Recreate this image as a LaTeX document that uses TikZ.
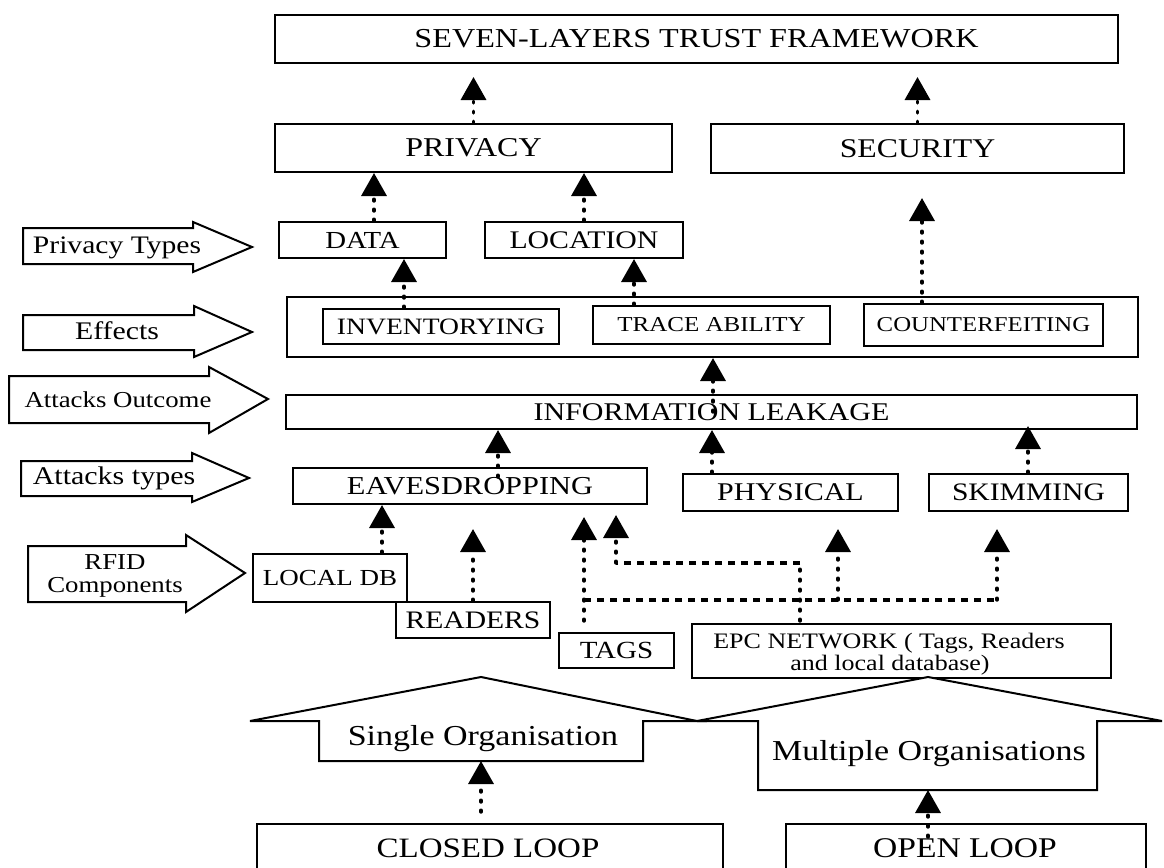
\documentclass[tikz,border=0pt]{standalone}
\usepackage{fontspec}
\setmainfont{Liberation Serif}
\usepackage{graphicx}
\usetikzlibrary{arrows.meta,calc}
\newcommand\sq[1]{\scalebox{1}[0.85]{#1}}
\newcommand\fs[1]{\fontsize{#1}{#1}\selectfont}
\begin{document}
\begin{tikzpicture}[x=0.5pt,y=-0.5pt,
  bx/.style={draw, line width=1pt, inner sep=0pt, fill=white},
  sz/.style 2 args={minimum width=#1*0.5pt, minimum height=#2*0.5pt},
  lbl/.style={anchor=base, inner sep=0pt},
  dots/.style={line width=1.7pt, dash pattern=on 0.9pt off 4.1pt, line cap=round},
  dsh/.style={line width=1.6pt, dash pattern=on 3.6pt off 2.9pt},
  arr/.style={dots, -{Triangle[width=12.5pt,length=11.5pt]}},
  blk/.style={draw, line width=1pt, line join=miter, fill=white}]
\path[use as bounding box, fill=white] (0,0) rectangle (1164,868);
\clip (0,0) rectangle (1164,868);

% boxes
\node[bx,sz={843}{48},font=\fs{16.1}] (top) at (696.5,39) {\sq{SEVEN-LAYERS TRUST FRAMEWORK}};
\node[bx,sz={397}{48},font=\fs{16}] (priv) at (473.5,148) {\sq{PRIVACY}};
\node[bx,sz={413}{49},font=\fs{15.9}] (sec) at (917.5,148.5) {\sq{SECURITY}};
\node[bx,sz={167}{36},font=\fs{14.4}] (data) at (362.5,240) {\sq{DATA}};
\node[bx,sz={198}{36},font=\fs{14.9}] (loc) at (584,240) {\sq{LOCATION}};
\node[bx,sz={851}{60}] (eff) at (712.5,327) {};
\node[bx,sz={236}{35},font=\fs{13.8}] (inv) at (441,326.5) {\sq{INVENTORYING}};
\node[bx,sz={237}{38},font=\fs{12.5}] (tra) at (711.5,325) {\sq{TRACE ABILITY}};
\node[bx,sz={239}{42},font=\fs{12.4}] (cnt) at (983.5,325) {\sq{COUNTERFEITING}};
\node[bx,sz={851}{34},font=\fs{15}] (il) at (711.5,412) {\sq{INFORMATION LEAKAGE}};
\node[bx,sz={354}{36},font=\fs{15.2}] (eav) at (470,486) {\sq{EAVESDROPPING}};
\node[bx,sz={215}{37},font=\fs{15}] (phy) at (790.5,492.5) {\sq{PHYSICAL}};
\node[bx,sz={199}{37},font=\fs{14.8}] (ski) at (1028.5,492.5) {\sq{SKIMMING}};
\node[bx,sz={154}{48},font=\fs{13.5}] (ldb) at (330,578) {\sq{LOCAL DB}};
\node[bx,sz={154}{36},font=\fs{14.8}] (rdr) at (473,620) {\sq{READERS}};
\node[bx,sz={115}{35},font=\fs{14.5}] (tags) at (616.5,650.5) {\sq{TAGS}};
\node[bx,sz={419}{54}] (epc) at (901.5,651) {};
\node[lbl,font=\fs{13}] (epcA) at (889,648) {\sq{EPC NETWORK ( Tags, Readers}};
\node[lbl,font=\fs{13}] (epcB) at (890,670) {\sq{and local database)}};
\node[bx,sz={466}{100},anchor=north] (cl) at (490,823) {};
\node[lbl,font=\fs{16.5}] (clT) at (488,857) {\sq{CLOSED LOOP}};
\node[bx,sz={360}{100},anchor=north] (op) at (966,823) {};
\node[lbl,font=\fs{16.8}] (opT) at (965,857) {\sq{OPEN LOOP}};

% block arrows (left legend)
\draw[blk] (23,228) -- (193,228) -- (193,222) -- (252,247) -- (193,272) -- (193,264) -- (23,264) -- cycle;
\node[lbl,font=\fs{14.8}] (ptT) at (117,253) {\sq{Privacy Types}};
\draw[blk] (23,315) -- (194,315) -- (194,306) -- (252,332) -- (194,357) -- (194,350) -- (23,350) -- cycle;
\node[lbl,font=\fs{14.9}] (efT) at (117,339) {\sq{Effects}};
\draw[blk] (9,376) -- (209,376) -- (209,367) -- (268,399) -- (209,433) -- (209,423) -- (9,423) -- cycle;
\node[lbl,font=\fs{13.4}] (aoT) at (118,407) {\sq{Attacks Outcome}};
\draw[blk] (21,461) -- (192,461) -- (192,453) -- (249,478) -- (192,502) -- (192,496) -- (21,496) -- cycle;
\node[lbl,font=\fs{15}] (atT) at (114,484) {\sq{Attacks types}};
\draw[blk] (28,546) -- (186,546) -- (186,535) -- (245,573) -- (186,612) -- (186,602) -- (28,602) -- cycle;
\node[lbl,font=\fs{13.4}] (rfA) at (115,569) {\sq{RFID}};
\node[lbl,font=\fs{13.4}] (rfB) at (115,592) {\sq{Components}};

% up block arrows (bottom)
\draw[blk] (697,721) -- (928,677) -- (1162,721) -- (1097,721) -- (1097,790) -- (758,790) -- (758,721) -- cycle;
\node[lbl,font=\fs{17}] (moT) at (929,760) {\sq{Multiple Organisations}};
\draw[blk] (250,721) -- (481,677) -- (697,721) -- (643,721) -- (643,761) -- (319,761) -- (319,721) -- cycle;
\node[lbl,font=\fs{17}] (soT) at (483,745) {\sq{Single Organisation}};
\coordinate (sob) at (481,761);
\coordinate (mob) at (928,790);

% connectors
\coordinate (a3) at (374,0);
\coordinate (a5) at (404,0);
\coordinate (a6) at (634,0);
\coordinate (a7) at (922,0);
\coordinate (a8) at (713,0);
\coordinate (a9) at (498,0);
\coordinate (a10) at (712,0);
\coordinate (a11) at (1028,0);
\coordinate (a12) at (382,0);
\coordinate (a14) at (584,0);
\coordinate (j1) at (800,563);
\coordinate (j2) at (616,563);
\coordinate (k1) at (584,600);
\coordinate (k2) at (838,600);
\coordinate (k3) at (997,600);

\draw[arr, shorten >=6.5pt] (priv.north) -- (priv.north |- top.south);
\draw[arr, shorten >=6.5pt] (sec.north) -- (sec.north |- top.south);
\draw[arr] (data.north -| a3) -- (priv.south -| a3);
\draw[arr] (loc.north) -- (loc.north |- priv.south);
\draw[arr] (inv.north -| a5) -- (data.south -| a5);
\draw[arr] (tra.north -| a6) -- (loc.south -| a6);
\draw[arr, shorten >=12pt] (cnt.north -| a7) -- (sec.south -| a7);
\draw[arr] (il.center -| a8) -- (eff.south -| a8);
\draw[arr, shorten <=4.5pt] (eav.center -| a9) -- (il.south -| a9);
\draw[arr] (phy.north -| a10) -- (il.south -| a10);
\draw[arr, shorten >=-2pt] (ski.north -| a11) -- (il.south -| a11);
\draw[arr] (ldb.north -| a12) -- (eav.south -| a12);
\draw[arr, shorten >=12pt] (rdr.north) -- (rdr.north |- eav.south);
\draw[arr, shorten <=5.5pt, shorten >=6pt] (tags.north -| a14) -- (eav.south -| a14);
\draw[dots, shorten <=1pt] (epc.north -| j1) -- (j1);
\draw[dsh] (j1) -- (j2);
\draw[arr, shorten >=5pt] (j2) -- (eav.south -| j2);
\draw[dsh] (k1) -- (k3);
\draw[arr, shorten >=8.5pt] (k2) -- (phy.south -| k2);
\draw[arr, shorten >=8.5pt] (k3) -- (ski.south -| k3);
\draw[arr, shorten <=5.5pt] (cl.north -| sob) -- (sob);
\draw[arr, shorten <=-7pt] (op.north -| mob) -- (mob);
\end{tikzpicture}
\end{document}
